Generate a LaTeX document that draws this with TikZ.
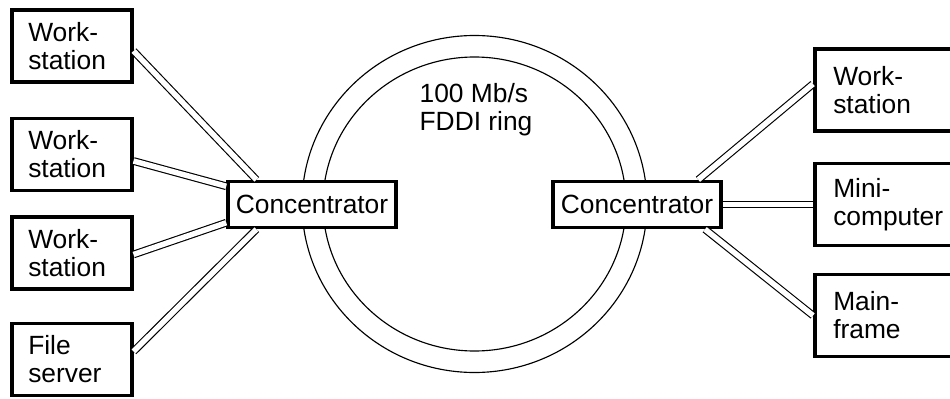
\documentclass[tikz,border=0pt]{standalone}
\usepackage{fontspec}
\setmainfont{Liberation Sans}
\begin{document}
\begin{tikzpicture}[
    every node/.style={font=\fontsize{15}{16}\selectfont},
    box/.style={draw, line width=2pt, fill=white, align=left, anchor=west},
    lbox/.style={box, text width=1.74cm, inner xsep=0.33cm, minimum height=1.44cm},
    rbox/.style={box, text width=2.4cm, inner xsep=0.37cm, minimum height=1.64cm},
    hub/.style={draw, line width=2pt, fill=white, minimum width=3.36cm, minimum height=0.92cm, inner sep=0pt},
    link/.style={double, double distance=3.1pt, line width=0.65pt}]
    \clip (0,0) rectangle (19,7.96);

    % the ring
    \draw [line width=0.65pt] (9.49,3.88) ellipse [x radius=3.45cm, y radius=3.37cm];
    \draw [line width=0.65pt] (9.49,3.88) ellipse [x radius=3.03cm, y radius=2.94cm];
    \node (ring) [align=left] at (9.52,5.76) {100 Mb/s\\FDDI ring};

    \node (c1) [hub] at (6.24,3.87) {Concentrator};
    \node (c2) [hub] at (12.74,3.87) {Concentrator};

    \node (ws1) [lbox] at (0.2,7.04) {Work-\\station};
    \node (ws2) [lbox] at (0.2,4.87) {Work-\\station};
    \node (ws3) [lbox] at (0.2,2.90) {Work-\\station};
    \node (fs)  [lbox] at (0.2,0.77) {File\\server};

    \node (ws4)  [rbox] at (16.26,6.16) {Work-\\station};
    \node (mini) [rbox] at (16.26,3.87) {Mini-\\computer};
    \node (main) [rbox] at (16.26,1.65) {Main-\\frame};

    \draw [link] ([yshift=-0.1cm]ws1.east) -- (c1.156);
    \draw [link] ([yshift=-0.13cm]ws2.east) -- (c1.168);
    \draw [link] ([yshift=-0.03cm]ws3.east) -- (c1.192);
    \draw [link] ([yshift=0.16cm]fs.east) -- (c1.204);

    \draw [link] (c2.22) -- ([yshift=0.12cm]ws4.west);
    \draw [link] (c2.east) -- (mini.west);
    \draw [link] (c2.-20) -- (main.west);
\end{tikzpicture}
\end{document}
